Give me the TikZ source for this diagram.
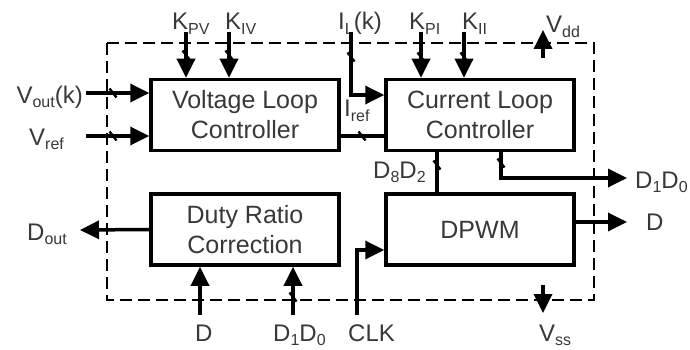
\documentclass[tikz,border=0pt]{standalone}
\usepackage{fontspec}
\setmainfont{Liberation Sans}
\usepackage{xcolor}
\usetikzlibrary{positioning,arrows.meta}

\definecolor{txtgray}{gray}{0.22}
\newcommand{\sbs}[1]{\raisebox{-0.2em}{\fontsize{16}{16}\selectfont #1}}

\tikzset{buswire/.pic={\draw[line width=2.4pt] (-3.5,-4.5) -- (3.5,4.5);}}

\begin{document}
\begin{tikzpicture}[
    x=1pt, y=-1pt,
    node distance=40pt and 43.5pt, % distancia entre os blocos
    every node/.style={text=txtgray},
    block/.style={
        draw=black,
        line width=3.5pt,
        minimum width=188pt,
        minimum height=71pt,
        align=center,
        font=\fontsize{25}{30}\selectfont
    },
    lbl/.style={inner sep=0pt, font=\fontsize{24}{28}\selectfont},
    sig/.style={line width=3.5pt, -{Triangle[length=19pt,width=18pt]}},
    wire/.style={line width=3.5pt},
    frame/.style={line width=1.6pt, dash pattern=on 12pt off 6pt}
]
\useasboundingbox (0,0) rectangle (690,350);

% --- Blocos ---
\node[block] (vlc) at (245,115) {Voltage Loop\\Controller};
\node[block, right=of vlc] (clc) {Current Loop\\Controller};
\node[block, below=of vlc] (drc) {Duty Ratio\\Correction};
\node[block, below=of clc] (dpwm) {DPWM};

% caixa tracejada
\draw[frame] (107,43) rectangle (594,300);

% --- Pontas livres ---
\coordinate (kpv) at (186,32);
\coordinate (kiv) at (229,32);
\coordinate (il) at (351,32);
\coordinate (ilturn) at (351,95);
\coordinate (kpi) at (421,32);
\coordinate (kii) at (464,32);
\coordinate (vdd) at (543,30);
\coordinate (vddin) at (543,58);
\coordinate (vout) at (86,93);
\coordinate (vref) at (86,136);
\coordinate (dout) at (80,230);
\coordinate (donezero) at (627,178);
\coordinate (dpwmout) at (627,222);
\coordinate (din) at (200,315);
\coordinate (donezeroin) at (293,315);
\coordinate (clk) at (357,315);
\coordinate (vssin) at (543,285);
\coordinate (vss) at (543,313);

% --- Rotulos ---
\node[lbl, anchor=base west] (Kpv) at (172,30) {K\sbs{PV}};
\node[lbl, anchor=base west] (Kiv) at (225,30) {K\sbs{IV}};
\node[lbl, anchor=base west] (Il) at (338,30) {I\sbs{L}(k)};
\node[lbl, anchor=base west] (Kpi) at (409,30) {K\sbs{PI}};
\node[lbl, anchor=base west] (Kii) at (462,30) {K\sbs{II}};
\node[lbl, anchor=base west] (Vdd) at (546,33) {V\sbs{dd}};
\node[lbl, anchor=base east] (Vout) at (83,103) {V\sbs{out}(k)};
\node[lbl, anchor=base west] (Vref) at (29,145) {V\sbs{ref}};
\node[lbl, anchor=base west] (Dout) at (27,240) {D\sbs{out}};
\node[lbl, anchor=base west] (Iref) at (344,117) {I\sbs{ref}};
\node[lbl, anchor=base west] (Deight) at (373,178) {D\sbs{8}D\sbs{2}};
\node[lbl, anchor=base west] (Donezero) at (635,188) {D\sbs{1}D\sbs{0}};
\node[lbl, anchor=base west] (Dright) at (646,230) {D};
\node[lbl, anchor=base west] (Dbottom) at (195,341) {D};
\node[lbl, anchor=base west] (Donezerob) at (273,341) {D\sbs{1}D\sbs{0}};
\node[lbl, anchor=base west] (Clk) at (348,341) {CLK};
\node[lbl, anchor=base west] (Vss) at (539,341) {V\sbs{ss}};

% --- Ligacoes ---
\draw[sig] (kpv) -- (kpv |- vlc.north);
\draw[sig] (kiv) -- (kiv |- vlc.north);
\draw[sig] (vout) -- (vout -| vlc.west);
\draw[sig] (vref) -- (vref -| vlc.west);
\draw[sig] (il) -- (ilturn) -- (ilturn -| clc.west);
\draw[sig] (kpi) -- (kpi |- clc.north);
\draw[sig] (kii) -- (kii |- clc.north);
\draw[wire] ([yshift=-21pt]vlc.east) -- ([yshift=-21pt]clc.west);
\draw[wire] ([xshift=-43pt]clc.south) -- ([xshift=-43pt]dpwm.north);
\draw[sig] ([xshift=21pt]clc.south) |- (donezero);
\draw[sig] ([yshift=7.5pt]dpwm.east) -- (dpwmout);
\draw[sig] (clk) |- ([yshift=-20.5pt]dpwm.west);
\draw[sig] (drc.west) -- (dout);
\draw[sig] (din) -- (din |- drc.south);
\draw[sig] (donezeroin) -- (donezeroin |- drc.south);
\draw[sig] (vddin) -- (vdd);
\draw[sig] (vssin) -- (vss);

% marcas de barramento
\foreach \p in {(113,93),(113,136),(186,55),(229,55),(351,57),(421,57),(464,57),(362,136),(437,165),(501,163),(293,297)}
    \pic at \p {buswire};

\end{tikzpicture}
\end{document}
